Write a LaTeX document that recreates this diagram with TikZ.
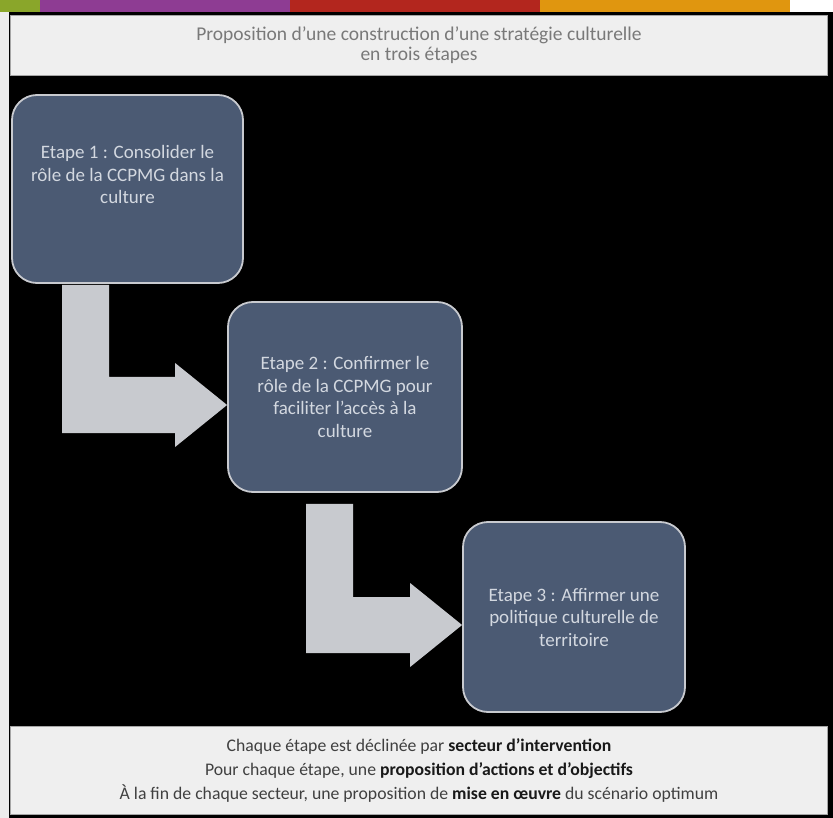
\documentclass[tikz,border=0pt]{standalone}
\usepackage{fontspec}
\setmainfont{Carlito}
\usetikzlibrary{calc}

\definecolor{barGreen}{HTML}{8AA62A}
\definecolor{barPurple}{HTML}{8E3C93}
\definecolor{barRed}{HTML}{B3261E}
\definecolor{barOrange}{HTML}{E0960F}
\definecolor{slate}{HTML}{4B5A73}
\definecolor{slateText}{HTML}{D3D8E0}
\definecolor{paleGrey}{HTML}{EFEFEF}
\definecolor{arrowGrey}{HTML}{C8CACF}

% bent arrow: start node, target node, stem x offset, gap below start node
\newcommand{\bentarrow}[4]{%
\fill[arrowfill] let \p1 = ($(#1.south west)+(#3,#4)$), \p2 = ($(#2.west)+(0,8)$) in
  (\x1,\y1) -- (\x1+47pt,\y1) -- (\x1+47pt,\y2+28pt) -- (\x2-52pt,\y2+28pt)
  -- (\x2-52pt,\y2+42pt) -- (\p2) -- (\x2-52pt,\y2-42pt) -- (\x2-52pt,\y2-28pt)
  -- (\x1,\y2-28pt) -- cycle;
}

\begin{document}
\begin{tikzpicture}[x=1pt,y=-1pt,
  stepbox/.style={draw=arrowGrey, line width=1.8pt, fill=slate, rounded corners=25pt,
    text=slateText, align=center, font=\fontsize{19}{22.5}\selectfont},
  panel/.style={draw=gray!70, line width=1pt, fill=paleGrey, align=center},
  arrowfill/.style={fill=arrowGrey}]
\useasboundingbox (0,0) rectangle (833,818);
\fill[white] (0,0) rectangle (833,818);

% bandeau de couleurs
\fill[barGreen] (0,0) rectangle (40,12);
\fill[barPurple] (40,0) rectangle (290,12);
\fill[barRed] (290,0) rectangle (540,12);
\fill[barOrange] (540,0) rectangle (790,12);
\fill[gray!15] (0,12) rectangle (9,818);
\fill[black] (9,12) rectangle (833,818);

% titre et notes
\node[panel, minimum width=817pt, minimum height=60pt, text=gray!95!black,
  font=\fontsize{19.5}{20}\selectfont] (title) at (419,45.5)
  {Proposition d’une construction d’une stratégie culturelle\\en trois étapes};
\node[panel, minimum width=817pt, minimum height=88pt, text=black!75,
  font=\fontsize{17.7}{24}\selectfont] (notes) at (419,770.5)
  {Chaque étape est déclinée par \textcolor{black!90}{\textbf{secteur d’intervention}}\\
   Pour chaque étape, une \textcolor{black!90}{\textbf{proposition d’actions et d’objectifs}}\\
   À la fin de chaque secteur, une proposition de \textcolor{black!90}{\textbf{mise en œuvre}} du scénario optimum};

% etapes
\node[stepbox, minimum width=231pt, minimum height=188pt] (box1) at (127.5,189)
  {Etape 1 : Consolider le\\rôle de la CCPMG dans la\\culture\\[6pt]};
\node[stepbox, minimum width=234pt, minimum height=190pt] (box2) at (345,397)
  {Etape 2 : Confirmer le\\rôle de la CCPMG pour\\faciliter l’accès à la\\culture};
\node[stepbox, minimum width=222pt, minimum height=190pt] (box3) at (574,617)
  {Etape 3 : Affirmer une\\politique culturelle de\\territoire};

\bentarrow{box1}{box2}{51}{1}
\bentarrow{box2}{box3}{79}{11}
\end{tikzpicture}
\end{document}
